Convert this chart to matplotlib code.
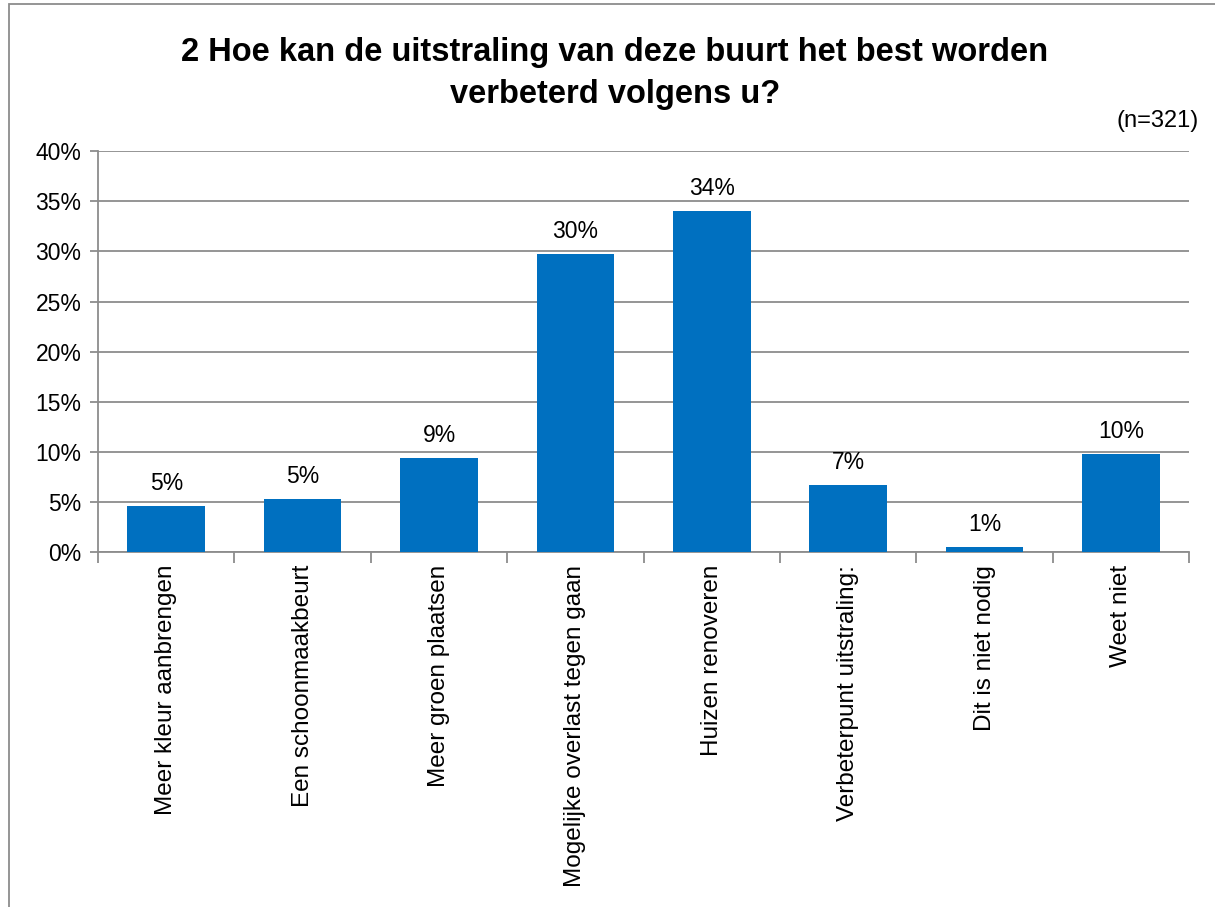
import matplotlib.pyplot as plt
from matplotlib.patches import Rectangle
from matplotlib.ticker import FixedLocator, PercentFormatter

categories = ['Meer kleur aanbrengen', 'Een schoonmaakbeurt', 'Meer groen plaatsen',
              'Mogelijke overlast tegen gaan', 'Huizen renoveren', 'Verbeterpunt uitstraling:',
              'Dit is niet nodig', 'Weet niet']
values = [4.6, 5.3, 9.4, 29.7, 34.0, 6.7, 0.5, 9.8]
labels = ['5%', '5%', '9%', '30%', '34%', '7%', '1%', '10%']
yticks = [0, 5, 10, 15, 20, 25, 30, 35, 40]

plt.rcParams['font.family'] = ['Liberation Sans', 'DejaVu Sans']

fig = plt.figure(figsize=(12.15, 9.07), dpi=100)
ax = fig.add_axes([0.0807, 0.391, 0.898, 0.4425])

x = list(range(len(categories)))
ax.bar(x, values, width=0.57, color='#0070C0', zorder=3)
for xi, v, lab in zip(x, values, labels):
    ax.text(xi, v + 1.1, lab, ha='center', va='bottom', fontsize=16.5)

ax.set_xlim(-0.5, len(categories) - 0.5)
ax.set_ylim(0, 40)
ax.set_yticks(yticks)
ax.yaxis.set_major_formatter(PercentFormatter(decimals=0))
ax.yaxis.grid(True, color='#8c8c8c', linewidth=1.3, zorder=0)
ax.tick_params(axis='y', labelsize=16.5, length=6, color='#8c8c8c', width=1.3, pad=6)

ax.set_xticks(x)
ax.set_xticklabels(categories, rotation=90, fontsize=17.5)
ax.tick_params(axis='x', length=0, pad=9)
ax.xaxis.set_minor_locator(FixedLocator([i - 0.5 for i in range(len(categories) + 1)]))
ax.tick_params(axis='x', which='minor', length=8, color='#8c8c8c', width=1.3)

for side in ['top', 'right']:
    ax.spines[side].set_visible(False)
for side in ['left', 'bottom']:
    ax.spines[side].set_color('#8c8c8c')
    ax.spines[side].set_linewidth(1.3)

fig.text(0.506, 0.919, '2 Hoe kan de uitstraling van deze buurt het best worden\nverbeterd volgens u?',
         ha='center', va='center', fontsize=23.5, fontweight='bold', linespacing=1.45)
fig.text(0.987, 0.867, '(n=321)', ha='right', va='center', fontsize=17)

fig.patches.append(Rectangle((0.007, -0.01), 1.1, 1.006, transform=fig.transFigure,
                             fill=False, edgecolor='#8c8c8c', linewidth=1.3))

fig.savefig('out.png', dpi=100)
